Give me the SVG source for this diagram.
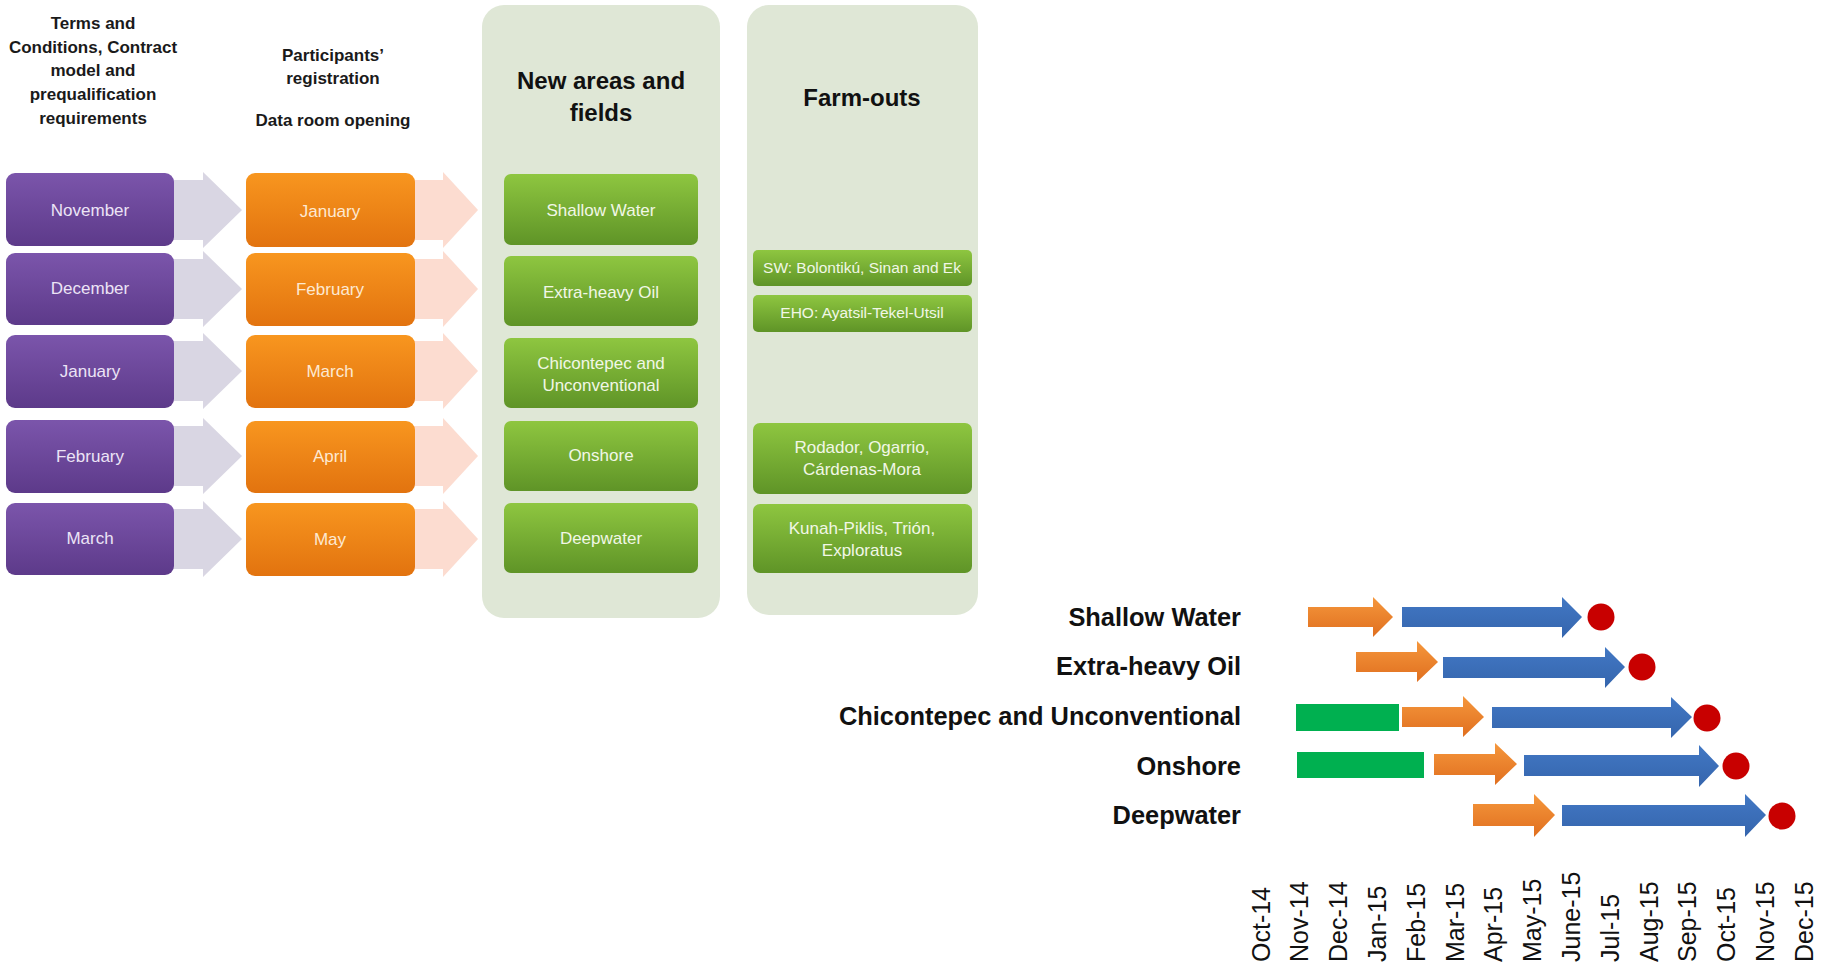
<svg xmlns="http://www.w3.org/2000/svg" width="1825" height="970" viewBox="0 0 1825 970">
<defs>
<linearGradient id="gPurple" x1="0" y1="0" x2="0" y2="1"><stop offset="0" stop-color="#7b55ab"/><stop offset="1" stop-color="#5d3a8a"/></linearGradient>
<linearGradient id="gOrange" x1="0" y1="0" x2="0" y2="1"><stop offset="0" stop-color="#f8961f"/><stop offset="1" stop-color="#e2730f"/></linearGradient>
<linearGradient id="gGreen" x1="0" y1="0" x2="0" y2="1"><stop offset="0" stop-color="#8ec640"/><stop offset="1" stop-color="#5f9427"/></linearGradient>
<linearGradient id="gArrO" x1="0" y1="0" x2="0" y2="1"><stop offset="0" stop-color="#f5973c"/><stop offset="1" stop-color="#e06f1f"/></linearGradient>
<linearGradient id="gArrB" x1="0" y1="0" x2="0" y2="1"><stop offset="0" stop-color="#4278c4"/><stop offset="1" stop-color="#3565ad"/></linearGradient>
<style>
.hdr{font-family:"Liberation Sans",Arial,sans-serif;font-weight:bold;font-size:17px;fill:#1a1a1a;text-anchor:middle}
.ttl{font-family:"Liberation Sans",Arial,sans-serif;font-weight:bold;font-size:24px;fill:#111;text-anchor:middle}
.pbox{fill:url(#gPurple)}
.obox{fill:url(#gOrange)}
.gbox{fill:url(#gGreen)}
.panel{fill:#dfe7d6}
.ptxt{font-family:"Liberation Sans",Arial,sans-serif;font-size:17px;fill:#ece4f6;text-anchor:middle}
.otxt{font-family:"Liberation Sans",Arial,sans-serif;font-size:17px;fill:#fde9d2;text-anchor:middle}
.gtxt{font-family:"Liberation Sans",Arial,sans-serif;font-size:17px;fill:#f1f7e6;text-anchor:middle}
.gtxs{font-family:"Liberation Sans",Arial,sans-serif;font-size:15.5px;fill:#f1f7e6;text-anchor:middle}
.garr{fill:#d9d6e3}
.parr{fill:#fcdcd0}
.lbl{font-family:"Liberation Sans",Arial,sans-serif;font-weight:bold;font-size:25.4px;fill:#111;text-anchor:end}
.ax{font-family:"Liberation Sans",Arial,sans-serif;font-size:25px;fill:#111}
.barG{fill:#00b050}
.arrO{fill:url(#gArrO)}
.arrB{fill:url(#gArrB)}
.dot{fill:#c80000}
</style>
</defs>
<rect width="1825" height="970" fill="#ffffff"/>

<g id="headers">
<text class="hdr" x="93" y="29">Terms and</text>
<text class="hdr" x="93" y="53">Conditions, Contract</text>
<text class="hdr" x="93" y="76">model and</text>
<text class="hdr" x="93" y="100">prequalification</text>
<text class="hdr" x="93" y="124">requirements</text>
<text class="hdr" x="333" y="61">Participants’</text>
<text class="hdr" x="333" y="84">registration</text>
<text class="hdr" x="333" y="126">Data room opening</text>
</g>

<g id="connectors">
<polygon class="garr" points="165,180 203,180 203,172 242,210 203,248 203,240 165,240"/>
<polygon class="garr" points="165,259 203,259 203,251 242,289 203,327 203,319 165,319"/>
<polygon class="garr" points="165,341 203,341 203,333 242,371 203,409 203,401 165,401"/>
<polygon class="garr" points="165,426 203,426 203,418 242,456 203,494 203,486 165,486"/>
<polygon class="garr" points="165,509 203,509 203,501 242,539 203,577 203,569 165,569"/>
<polygon class="parr" points="405,180 443,180 443,172 478,210 443,248 443,240 405,240"/>
<polygon class="parr" points="405,259 443,259 443,251 478,289 443,327 443,319 405,319"/>
<polygon class="parr" points="405,341 443,341 443,333 478,371 443,409 443,401 405,401"/>
<polygon class="parr" points="405,426 443,426 443,418 478,456 443,494 443,486 405,486"/>
<polygon class="parr" points="405,509 443,509 443,501 478,539 443,577 443,569 405,569"/>
</g>

<g id="col-terms">
<g id="t-nov"><rect class="pbox" x="6" y="173" width="168" height="73" rx="9"/><text class="ptxt" x="90" y="216">November</text></g>
<g id="t-dec"><rect class="pbox" x="6" y="253" width="168" height="72" rx="9"/><text class="ptxt" x="90" y="294">December</text></g>
<g id="t-jan"><rect class="pbox" x="6" y="335" width="168" height="73" rx="9"/><text class="ptxt" x="90" y="377">January</text></g>
<g id="t-feb"><rect class="pbox" x="6" y="420" width="168" height="73" rx="9"/><text class="ptxt" x="90" y="462">February</text></g>
<g id="t-mar"><rect class="pbox" x="6" y="503" width="168" height="72" rx="9"/><text class="ptxt" x="90" y="544">March</text></g>
</g>

<g id="col-registration">
<g id="r-jan"><rect class="obox" x="246" y="173" width="169" height="74" rx="9"/><text class="otxt" x="330" y="217">January</text></g>
<g id="r-feb"><rect class="obox" x="246" y="253" width="169" height="73" rx="9"/><text class="otxt" x="330" y="295">February</text></g>
<g id="r-mar"><rect class="obox" x="246" y="335" width="169" height="73" rx="9"/><text class="otxt" x="330" y="377">March</text></g>
<g id="r-apr"><rect class="obox" x="246" y="421" width="169" height="72" rx="9"/><text class="otxt" x="330" y="462">April</text></g>
<g id="r-may"><rect class="obox" x="246" y="503" width="169" height="73" rx="9"/><text class="otxt" x="330" y="545">May</text></g>
</g>

<g id="panel-new">
<rect class="panel" x="482" y="5" width="238" height="613" rx="22"/>
<text class="ttl" x="601" y="89">New areas and</text>
<text class="ttl" x="601" y="121">fields</text>
<g id="n-sw"><rect class="gbox" x="504" y="174" width="194" height="71" rx="7"/><text class="gtxt" x="601" y="216">Shallow Water</text></g>
<g id="n-eho"><rect class="gbox" x="504" y="256" width="194" height="70" rx="7"/><text class="gtxt" x="601" y="298">Extra-heavy Oil</text></g>
<g id="n-chi"><rect class="gbox" x="504" y="338" width="194" height="70" rx="7"/><text class="gtxt" x="601" y="369">Chicontepec  and</text><text class="gtxt" x="601" y="391">Unconventional</text></g>
<g id="n-on"><rect class="gbox" x="504" y="421" width="194" height="70" rx="7"/><text class="gtxt" x="601" y="461">Onshore</text></g>
<g id="n-dw"><rect class="gbox" x="504" y="503" width="194" height="70" rx="7"/><text class="gtxt" x="601" y="544">Deepwater</text></g>
</g>

<g id="panel-farm">
<rect class="panel" x="747" y="5" width="231" height="610" rx="22"/>
<text class="ttl" x="862" y="106">Farm-outs</text>
<g id="f-sw"><rect class="gbox" x="753" y="250" width="219" height="36" rx="5"/><text class="gtxs" x="862" y="273">SW: Bolontikú, Sinan and Ek</text></g>
<g id="f-eho"><rect class="gbox" x="753" y="295" width="219" height="37" rx="5"/><text class="gtxs" x="862" y="318">EHO: Ayatsil-Tekel-Utsil</text></g>
<g id="f-rod"><rect class="gbox" x="753" y="423" width="219" height="71" rx="7"/><text class="gtxt" x="862" y="453">Rodador, Ogarrio,</text><text class="gtxt" x="862" y="475">Cárdenas-Mora</text></g>
<g id="f-kun"><rect class="gbox" x="753" y="504" width="219" height="69" rx="7"/><text class="gtxt" x="862" y="534">Kunah-Piklis, Trión,</text><text class="gtxt" x="862" y="556">Exploratus</text></g>
</g>

<g id="gantt-labels">
<text class="lbl" x="1241" y="626">Shallow Water</text>
<text class="lbl" x="1241" y="675">Extra-heavy Oil</text>
<text class="lbl" x="1241" y="725">Chicontepec and Unconventional</text>
<text class="lbl" x="1241" y="775">Onshore</text>
<text class="lbl" x="1241" y="824">Deepwater</text>
</g>

<g id="gantt-bars">
<g id="g-sw">
<polygon class="arrO" points="1308,607 1373,607 1373,597 1393,617 1373,637 1373,627 1308,627"/>
<polygon class="arrB" points="1402,607 1562,607 1562,597 1582,617 1562,638 1562,627 1402,627"/>
<circle class="dot" cx="1601" cy="617" r="13.5"/>
</g>
<g id="g-eho">
<polygon class="arrO" points="1356,652 1417,652 1417,641 1438,662 1417,682 1417,672 1356,672"/>
<polygon class="arrB" points="1443,657 1605,657 1605,647 1625,667 1605,688 1605,678 1443,678"/>
<circle class="dot" cx="1642" cy="667" r="13.5"/>
</g>
<g id="g-chi">
<rect class="barG" x="1296" y="704" width="103" height="27"/>
<polygon class="arrO" points="1402,707 1463,707 1463,696 1484,717 1463,737 1463,727 1402,727"/>
<polygon class="arrB" points="1492,707 1671,707 1671,697 1692,717 1671,738 1671,728 1492,728"/>
<circle class="dot" cx="1707" cy="718" r="13.5"/>
</g>
<g id="g-on">
<rect class="barG" x="1297" y="752" width="127" height="26"/>
<polygon class="arrO" points="1434,754 1495,754 1495,743 1517,764 1495,785 1495,775 1434,775"/>
<polygon class="arrB" points="1524,755 1699,755 1699,745 1719,766 1699,787 1699,776 1524,776"/>
<circle class="dot" cx="1736" cy="766" r="13.5"/>
</g>
<g id="g-dw">
<polygon class="arrO" points="1473,804 1534,804 1534,794 1555,815 1534,837 1534,826 1473,826"/>
<polygon class="arrB" points="1562,805 1745,805 1745,794 1766,815 1745,837 1745,826 1562,826"/>
<circle class="dot" cx="1782" cy="816" r="13.5"/>
</g>
</g>

<g id="axis">
<text class="ax" transform="translate(1269.5,962) rotate(-90)">Oct-14</text>
<text class="ax" transform="translate(1308.3,962) rotate(-90)">Nov-14</text>
<text class="ax" transform="translate(1347.1,962) rotate(-90)">Dec-14</text>
<text class="ax" transform="translate(1385.9,962) rotate(-90)">Jan-15</text>
<text class="ax" transform="translate(1424.7,962) rotate(-90)">Feb-15</text>
<text class="ax" transform="translate(1463.5,962) rotate(-90)">Mar-15</text>
<text class="ax" transform="translate(1502.3,962) rotate(-90)">Apr-15</text>
<text class="ax" transform="translate(1541.1,962) rotate(-90)">May-15</text>
<text class="ax" transform="translate(1579.9,962) rotate(-90)">June-15</text>
<text class="ax" transform="translate(1618.7,962) rotate(-90)">Jul-15</text>
<text class="ax" transform="translate(1657.5,962) rotate(-90)">Aug-15</text>
<text class="ax" transform="translate(1696.3,962) rotate(-90)">Sep-15</text>
<text class="ax" transform="translate(1735.1,962) rotate(-90)">Oct-15</text>
<text class="ax" transform="translate(1773.9,962) rotate(-90)">Nov-15</text>
<text class="ax" transform="translate(1812.7,962) rotate(-90)">Dec-15</text>
</g>
</svg>
